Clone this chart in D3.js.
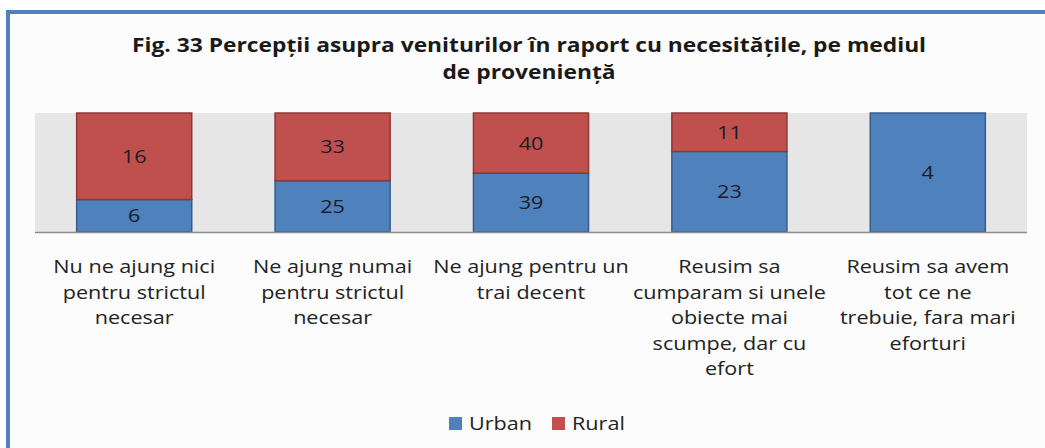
<!DOCTYPE html>
<html>
<head>
<meta charset="utf-8">
<title>Fig. 33</title>
<script src="https://cdn.jsdelivr.net/npm/d3@7"></script>
<style>
  body { margin: 0; background: #fff; }
  text { font-family: "Open Sans", Lato, sans-serif; }
</style>
</head>
<body>
<script>
// categorii si valori
var categories = [
  ["Nu ne ajung nici", "pentru strictul", "necesar"],
  ["Ne ajung numai", "pentru strictul", "necesar"],
  ["Ne ajung pentru un", "trai decent"],
  ["Reusim sa", "cumparam si unele", "obiecte mai", "scumpe, dar cu", "efort"],
  ["Reusim sa avem", "tot ce ne", "trebuie, fara mari", "eforturi"]
];
var urban = [6, 25, 39, 23, 4];
var rural = [16, 33, 40, 11, 0];
var seriesNames = ["Urban", "Rural"];
var seriesColors = ["#4f81bd", "#c0504d"];
var strokeColors = ["#385d8a", "#8c3836"];
var titleLines = ["Fig. 33 Percepții asupra veniturilor în raport cu necesitățile, pe mediul", "de proveniență"];

var width = 1045, height = 448;
var plot = {left: 35, right: 1027, top: 113, bottom: 232};
// textul din original e mai lat (Calibri intins), il intindem orizontal
var stretch = 1.2;

var svg = d3.select("body").append("svg")
  .attr("width", width).attr("height", height);

// scrie un text intins orizontal, ancorat in (x, y)
function label(parent, x, y, sx) {
  return parent.append("g").attr("transform", "translate(" + x + "," + y + ") scale(" + sx + ",1)")
    .append("text").attr("x", 0).attr("y", 0);
}

// chenarul albastru
svg.append("rect").attr("x", 8).attr("y", 12).attr("width", 1100).attr("height", 500)
  .attr("fill", "#fcfcfc").attr("stroke", "#4f81bd").attr("stroke-width", 4);

// titlu
titleLines.forEach(function(t, i){
  label(svg, 529, 52 + i * 27, 1.14)
    .attr("text-anchor", "middle").attr("font-weight", "bold").attr("font-size", 20)
    .attr("fill", "#1a1a1a").text(t);
});

var idx = d3.range(categories.length);
var x = d3.scaleBand().domain(idx).range([plot.left, plot.right]).paddingInner(0.42).paddingOuter(0.21);
var y = d3.scaleLinear().domain([0, 1]).range([plot.bottom, plot.top]);

// fundal zona grafic
svg.append("rect").attr("x", plot.left).attr("y", plot.top)
  .attr("width", plot.right - plot.left).attr("height", plot.bottom - plot.top)
  .attr("fill", "#e6e6e6");

// date stivuite 100%
var rows = idx.map(function(i){ return {i: i, Urban: urban[i], Rural: rural[i]}; });
var stack = d3.stack().keys(seriesNames).offset(d3.stackOffsetExpand);
var layers = stack(rows);

layers.forEach(function(layer){
  var gl = svg.append("g");
  layer.forEach(function(p){
    if (p[1] - p[0] <= 0) return;
    gl.append("rect")
      .attr("x", x(p.data.i))
      .attr("width", x.bandwidth())
      .attr("y", y(p[1]))
      .attr("height", y(p[0]) - y(p[1]))
      .attr("fill", seriesColors[layer.index])
      .attr("stroke", strokeColors[layer.index])
      .attr("stroke-width", 1.5);
    label(gl, x(p.data.i) + x.bandwidth() / 2, (y(p[0]) + y(p[1])) / 2, stretch)
      .attr("dy", "0.36em")
      .attr("text-anchor", "middle").attr("font-size", 18).attr("fill", "#1b1b2a")
      .text(p.data[layer.key]);
  });
});

// axa X
svg.append("line").attr("x1", plot.left).attr("x2", plot.right)
  .attr("y1", plot.bottom + 0.5).attr("y2", plot.bottom + 0.5)
  .attr("stroke", "#8c8c8c").attr("stroke-width", 1.5);

categories.forEach(function(lines, i){
  lines.forEach(function(t, k){
    label(svg, x(i) + x.bandwidth() / 2, 273 + k * 25.5, stretch)
      .attr("text-anchor", "middle").attr("font-size", 18).attr("fill", "#222").text(t);
  });
});

// legenda
var leg = svg.append("g");
var legX = [449, 552];
seriesNames.forEach(function(name, i){
  leg.append("rect").attr("x", legX[i]).attr("y", 417).attr("width", 13).attr("height", 13)
    .attr("fill", seriesColors[i]);
  label(leg, legX[i] + 20, 430, stretch)
    .attr("font-size", 18).attr("fill", "#222").text(name);
});
</script>
</body>
</html>
